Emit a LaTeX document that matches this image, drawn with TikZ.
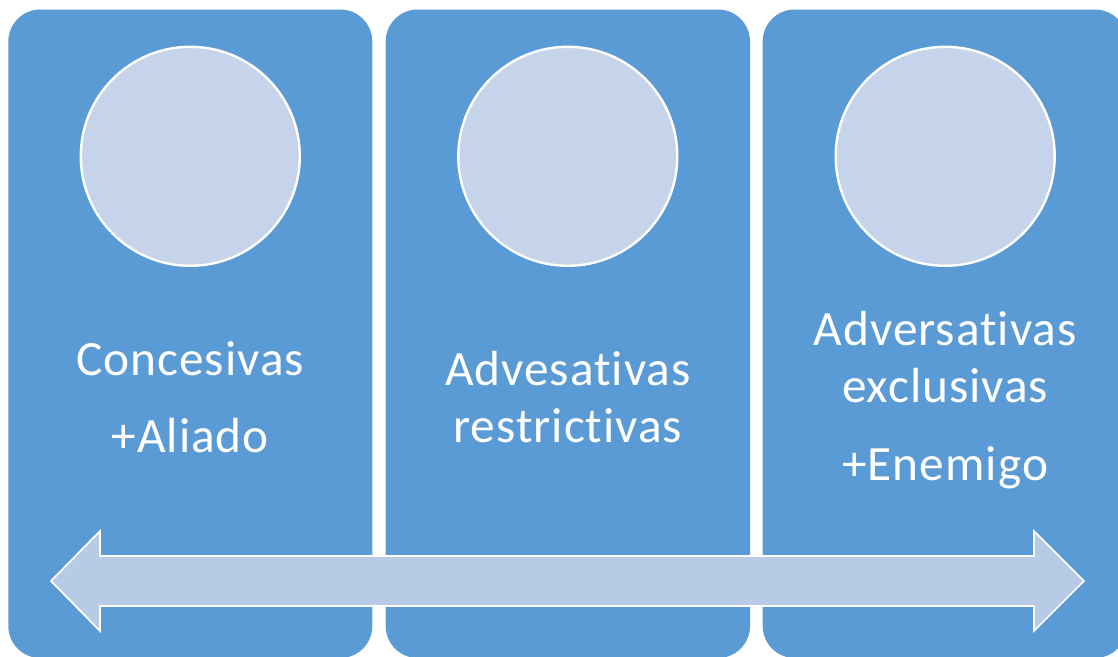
\documentclass[tikz,border=0pt]{standalone}
\usepackage{fontspec}
\setmainfont{Carlito}[Ligatures={NoCommon},LetterSpace=2]
\definecolor{boxblue}{RGB}{91,155,213}
\definecolor{circfill}{RGB}{197,212,234}
\definecolor{arrfill}{RGB}{183,203,231}
\begin{document}
\begin{tikzpicture}[x=0.75pt,y=-0.75pt,
  panel/.style={fill=boxblue,draw=none,rounded corners=24pt},
  disc/.style={circle,fill=circfill,draw=white,line width=1.8pt,minimum size=219*0.75pt,inner sep=0pt},
  lbl/.style={text=white,inner sep=0pt,anchor=base,font=\fontsize{37}{44}\selectfont},
  bigarrow/.style={fill=arrfill,draw=white,line width=1.3pt,line join=miter}]
\useasboundingbox (0,0) rectangle (1118,657);
\begin{scope}
\clip (0,0) rectangle (1118,657);
\fill[panel] (8.3,9.5) rectangle (372.3,658);
\fill[panel] (385.7,9.5) rectangle (750,658);
\fill[panel] (762.7,9.5) rectangle (1127,658);
\end{scope}
\node[disc] (c1) at (190.3,156.3) {};
\node[disc] (c2) at (567.8,156.3) {};
\node[disc] (c3) at (945.2,156.3) {};
\node[lbl] (t1a) at (190.3,375) {Concesivas};
\node[lbl] (t1b) at (190.3,452) {+Aliado};
\node[lbl] (t2a) at (567.8,385) {Advesativas};
\node[lbl] (t2b) at (567.8,442) {restrictivas};
\node[lbl] (t3a) at (945.2,345) {Adversativas};
\node[lbl] (t3b) at (945.2,402) {exclusivas};
\node[lbl] (t3c) at (945.2,480) {+Enemigo};
\draw[bigarrow] (51,581) -- (100,531) -- (100,556) -- (1034,556) -- (1034,531)
  -- (1084,581) -- (1034,631) -- (1034,606) -- (100,606) -- (100,631) -- cycle;
\end{tikzpicture}
\end{document}
